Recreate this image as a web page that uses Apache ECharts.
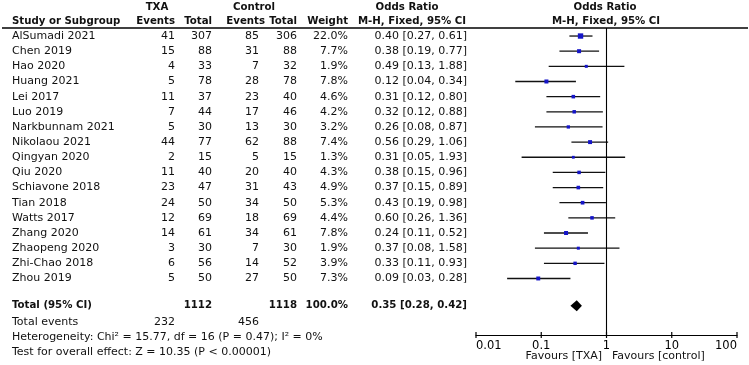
<!DOCTYPE html>
<html>
<head>
<meta charset="utf-8">
<script src="https://cdn.jsdelivr.net/npm/echarts@6/dist/echarts.min.js"></script>
<style>
  html, body { margin: 0; padding: 0; background: #fff; }
  #container { width: 749px; height: 365px; }
</style>
</head>
<body>
<div id="container"></div>
<script>
// data
var studies = ['AlSumadi 2021', 'Chen 2019', 'Hao 2020', 'Huang 2021', 'Lei 2017', 'Luo 2019',
    'Narkbunnam 2021', 'Nikolaou 2021', 'Qingyan 2020', 'Qiu 2020', 'Schiavone 2018', 'Tian 2018',
    'Watts 2017', 'Zhang 2020', 'Zhaopeng 2020', 'Zhi-Chao 2018', 'Zhou 2019'];
var txaEvents = [41, 15, 4, 5, 11, 7, 5, 44, 2, 11, 23, 24, 12, 14, 3, 6, 5];
var txaTotal = [307, 88, 33, 78, 37, 44, 30, 77, 15, 40, 47, 50, 69, 61, 30, 56, 50];
var ctrlEvents = [85, 31, 7, 28, 23, 17, 13, 62, 5, 20, 31, 34, 18, 34, 7, 14, 27];
var ctrlTotal = [306, 88, 32, 78, 40, 46, 30, 88, 15, 40, 43, 50, 69, 61, 30, 52, 50];
var weights = [22.0, 7.7, 1.9, 7.8, 4.6, 4.2, 3.2, 7.4, 1.3, 4.3, 4.9, 5.3, 4.4, 7.8, 1.9, 3.9, 7.3];
var orVals = [0.40, 0.38, 0.49, 0.12, 0.31, 0.32, 0.26, 0.56, 0.31, 0.38, 0.37, 0.43, 0.60, 0.24, 0.37, 0.33, 0.09];
var ciLow = [0.27, 0.19, 0.13, 0.04, 0.12, 0.12, 0.08, 0.29, 0.05, 0.15, 0.15, 0.19, 0.26, 0.11, 0.08, 0.11, 0.03];
var ciHigh = [0.61, 0.77, 1.88, 0.34, 0.80, 0.88, 0.87, 1.06, 1.93, 0.96, 0.89, 0.98, 1.36, 0.52, 1.58, 0.93, 0.28];
var totalOR = [0.35, 0.28, 0.42];
var totalN = [1112, 1118];
var totalEvents = [232, 456];
var axisTicks = [0.01, 0.1, 1, 10, 100];

var FONT = 'DejaVu Sans';
var FS = 11;
var FS_BOLD = 10.2;
var TOTAL_ROW = 17.8;
var Y_MIN = -0.53, Y_MAX = 19.73;

function fmt2(v) { return v.toFixed(2); }

var myChart = echarts.init(document.getElementById('container'));

var studyData = studies.map(function (s, i) {
    return [orVals[i], i, ciLow[i], ciHigh[i], weights[i]];
});

var option = {
    animation: false,
    backgroundColor: '#fff',
    grid: {left: 476, right: 12, top: 28, bottom: 30},
    xAxis: {
        type: 'log', logBase: 10, min: 0.01, max: 100,
        axisLine: {onZero: false, lineStyle: {color: '#000', width: 1.2}},
        axisTick: {show: false},
        axisLabel: {
            color: '#000', fontFamily: FONT, fontSize: 11.5, margin: 5,
            alignMinLabel: 'left', alignMaxLabel: 'right',
            formatter: function (v) { return String(v); }
        },
        splitLine: {show: false}
    },
    yAxis: {
        type: 'value', inverse: true, min: Y_MIN, max: Y_MAX,
        show: false
    },
    series: [
        {
            type: 'custom',
            name: 'studies',
            data: studyData,
            clip: false,
            renderItem: function (params, api) {
                var row = api.value(1);
                var p = api.coord([api.value(0), row]);
                var lo = api.coord([api.value(2), row]);
                var hi = api.coord([api.value(3), row]);
                var side = 2 + 0.72 * Math.sqrt(api.value(4));
                return {
                    type: 'group',
                    children: [
                        {
                            type: 'line',
                            shape: {x1: lo[0], y1: lo[1], x2: hi[0], y2: hi[1]},
                            style: {stroke: '#111', lineWidth: 1.3}
                        },
                        {
                            type: 'rect',
                            shape: {x: p[0] - side / 2, y: p[1] - side / 2, width: side, height: side},
                            style: {fill: '#1515c8'}
                        }
                    ]
                };
            }
        },
        {
            type: 'custom',
            name: 'total',
            data: [[totalOR[0], TOTAL_ROW, totalOR[1], totalOR[2]]],
            clip: false,
            renderItem: function (params, api) {
                var row = api.value(1);
                var p = api.coord([api.value(0), row]);
                var lo = api.coord([api.value(2), row]);
                var hi = api.coord([api.value(3), row]);
                var h = 5.5;
                return {
                    type: 'polygon',
                    shape: {points: [[lo[0], p[1]], [p[0], p[1] - h], [hi[0], p[1]], [p[0], p[1] + h]]},
                    style: {fill: '#000'}
                };
            }
        },
        {
            // axis ticks crossing the axis line
            type: 'custom',
            name: 'ticks',
            data: axisTicks.map(function (v) { return [v, Y_MAX]; }),
            clip: false,
            silent: true,
            renderItem: function (params, api) {
                var p = api.coord([api.value(0), api.value(1)]);
                return {
                    type: 'line',
                    shape: {x1: p[0], y1: p[1] - 3, x2: p[0], y2: p[1] + 3},
                    style: {stroke: '#000', lineWidth: 1.2}
                };
            }
        },
        {
            // line of no effect
            type: 'line',
            data: [[1, Y_MIN], [1, Y_MAX]],
            symbol: 'none',
            silent: true,
            lineStyle: {color: '#000', width: 1.1}
        }
    ]
};
myChart.setOption(option);

// table text, rows placed through the y axis
function rowY(r) {
    return myChart.convertToPixel({yAxisIndex: 0}, r);
}
var texts = [];
function txt(x, y, s, align, bold) {
    texts.push({
        type: 'text', x: x, y: y,
        style: {
            text: s, fill: '#111',
            font: bold ? ('bold ' + FS_BOLD + 'px "' + FONT + '"') : (FS + 'px "' + FONT + '"'),
            textAlign: align || 'left', textVerticalAlign: 'middle'
        }
    });
}

// headers
txt(157, 7, 'TXA', 'center', true);
txt(254, 7, 'Control', 'center', true);
txt(407, 7, 'Odds Ratio', 'center', true);
txt(605, 7, 'Odds Ratio', 'center', true);
txt(12, 21, 'Study or Subgroup', 'left', true);
txt(175, 21, 'Events', 'right', true);
txt(212, 21, 'Total', 'right', true);
txt(265, 21, 'Events', 'right', true);
txt(297, 21, 'Total', 'right', true);
txt(348, 21, 'Weight', 'right', true);
txt(412, 21, 'M-H, Fixed, 95% CI', 'center', true);
txt(606, 21, 'M-H, Fixed, 95% CI', 'center', true);

studies.forEach(function (s, i) {
    var y = rowY(i);
    txt(12, y, s, 'left');
    txt(175, y, String(txaEvents[i]), 'right');
    txt(212, y, String(txaTotal[i]), 'right');
    txt(259, y, String(ctrlEvents[i]), 'right');
    txt(297, y, String(ctrlTotal[i]), 'right');
    txt(348, y, weights[i].toFixed(1) + '%', 'right');
    txt(467, y, fmt2(orVals[i]) + ' [' + fmt2(ciLow[i]) + ', ' + fmt2(ciHigh[i]) + ']', 'right');
});

var yt = rowY(TOTAL_ROW);
txt(12, yt, 'Total (95% CI)', 'left', true);
txt(212, yt, String(totalN[0]), 'right', true);
txt(297, yt, String(totalN[1]), 'right', true);
txt(348, yt, '100.0%', 'right', true);
txt(467, yt, fmt2(totalOR[0]) + ' [' + fmt2(totalOR[1]) + ', ' + fmt2(totalOR[2]) + ']', 'right', true);

txt(12, 322, 'Total events', 'left');
txt(175, 322, String(totalEvents[0]), 'right');
txt(259, 322, String(totalEvents[1]), 'right');
txt(12, 337, 'Heterogeneity: Chi\u00b2 = 15.77, df = 16 (P = 0.47); I\u00b2 = 0%', 'left');
txt(12, 352, 'Test for overall effect: Z = 10.35 (P < 0.00001)', 'left');

txt(602, 356, 'Favours [TXA]', 'right');
txt(612, 356, 'Favours [control]', 'left');

myChart.setOption({
    graphic: [
        {
            type: 'line',
            shape: {x1: 2, y1: 28, x2: 748, y2: 28},
            style: {stroke: '#000', lineWidth: 1.5}
        }
    ].concat(texts)
});
</script>
</body>
</html>
